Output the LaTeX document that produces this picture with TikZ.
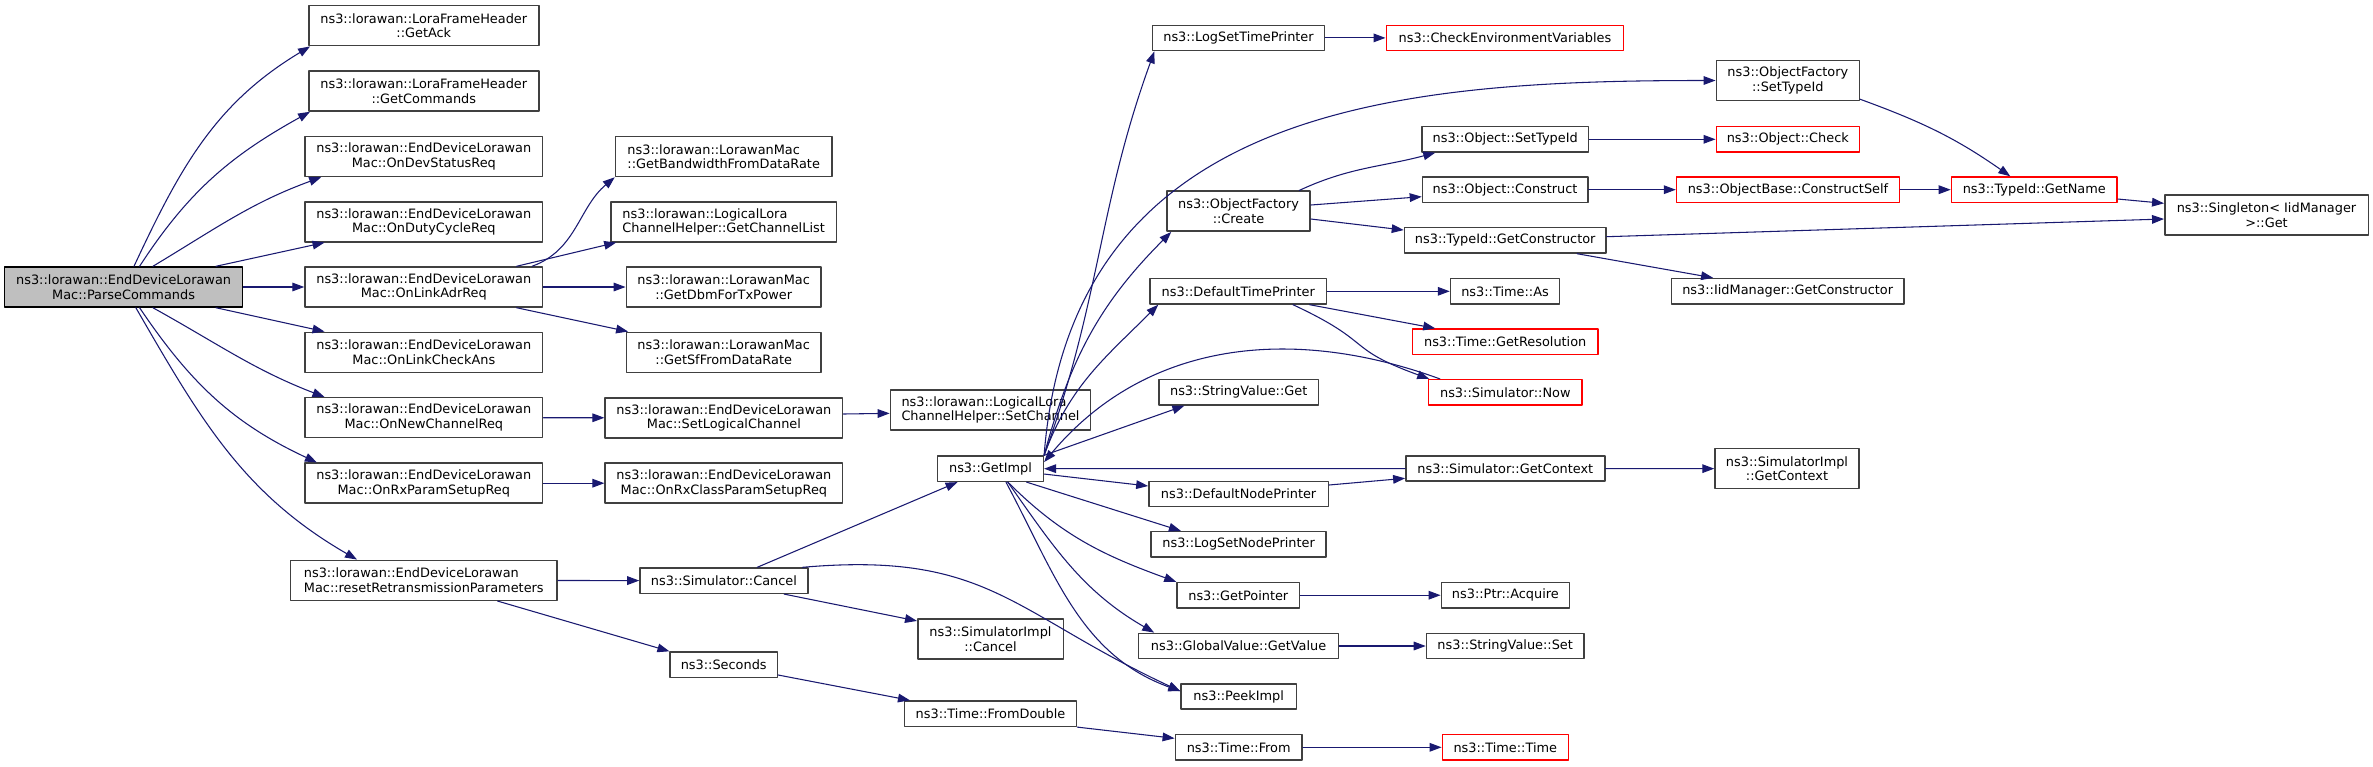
\documentclass[tikz,border=0pt]{standalone}
\usepackage{fontspec}
\setmainfont{DejaVu Sans}
\usepackage{xcolor}
\usepackage{tikz}
\usetikzlibrary{arrows.meta}
\definecolor{edgeblue}{HTML}{191970}
\definecolor{boxgrey}{HTML}{404040}
\definecolor{hotgrey}{HTML}{BFBFBF}

\begin{document}
\begin{tikzpicture}[
   x=0.75bp,
   y=-0.75bp,
   line cap=round,
   line join=round,
   every node/.style={font=\fontsize{9.7}{11}\selectfont},
   fn/.style={draw=boxgrey,line width=1.1bp,fill=white,inner sep=0pt,
     align=center,minimum height=19bp},
   fntwo/.style={fn,minimum height=30bp},
   hot/.style={fill=hotgrey,draw=black},
   trunc/.style={draw=red},
   edge/.style={draw=edgeblue,line width=0.8bp,
     -{Triangle[length=9bp,width=6.5bp]}}
 ]
   \useasboundingbox (0,0) rectangle (2373,766);

   % The function whose calls are shown, and what it calls directly.
   \node[fntwo,hot,minimum width=178.5bp] (parse) at (123.6,287)
     {ns3::lorawan::EndDeviceLorawan\\Mac::ParseCommands};
   \node[fntwo,minimum width=172.5bp] (getack) at (423.8,25.7)
     {ns3::lorawan::LoraFrameHeader\\::GetAck};
   \node[fntwo,minimum width=172.5bp] (getcmds) at (423.8,91)
     {ns3::lorawan::LoraFrameHeader\\::GetCommands};
   \node[fntwo,minimum width=178.2bp] (devstatus) at (423.8,156.5)
     {ns3::lorawan::EndDeviceLorawan\\Mac::OnDevStatusReq};
   \node[fntwo,minimum width=178.2bp] (dutycycle) at (423.8,221.8)
     {ns3::lorawan::EndDeviceLorawan\\Mac::OnDutyCycleReq};
   \node[fntwo,minimum width=178.2bp] (linkadr) at (423.8,287)
     {ns3::lorawan::EndDeviceLorawan\\Mac::OnLinkAdrReq};
   \node[fntwo,minimum width=178.2bp] (linkcheck) at (423.8,352.3)
     {ns3::lorawan::EndDeviceLorawan\\Mac::OnLinkCheckAns};
   \node[fntwo,minimum width=178.2bp] (newchan) at (423.8,417.7)
     {ns3::lorawan::EndDeviceLorawan\\Mac::OnNewChannelReq};
   \node[fntwo,minimum width=178.2bp] (rxparam) at (423.8,483.2)
     {ns3::lorawan::EndDeviceLorawan\\Mac::OnRxParamSetupReq};
   \node[fntwo,align=left,minimum width=200.1bp] (reset) at (423.8,580.3)
     {ns3::lorawan::EndDeviceLorawan\\Mac::resetRetransmissionParameters};

   % Third column.
   \node[fntwo,align=left,minimum width=162.3bp] (bandwidth) at (723.7,156.5)
     {ns3::lorawan::LorawanMac\\::GetBandwidthFromDataRate};
   \node[fntwo,align=left,minimum width=169.1bp] (chanlist) at (723.65,221.8)
     {ns3::lorawan::LogicalLora\\ChannelHelper::GetChannelList};
   \node[fntwo,minimum width=146.1bp] (dbm) at (723.7,287)
     {ns3::lorawan::LorawanMac\\::GetDbmForTxPower};
   \node[fntwo,minimum width=146.1bp] (sf) at (723.7,352.3)
     {ns3::lorawan::LorawanMac\\::GetSfFromDataRate};
   \node[fntwo,minimum width=178.2bp] (setlogical) at (723.9,417.8)
     {ns3::lorawan::EndDeviceLorawan\\Mac::SetLogicalChannel};
   \node[fntwo,minimum width=178.2bp] (rxclass) at (723.9,483.2)
     {ns3::lorawan::EndDeviceLorawan\\Mac::OnRxClassParamSetupReq};
   \node[fn,minimum width=125.9bp] (cancel) at (723.9,580.7) {ns3::Simulator::Cancel};
   \node[fn,minimum width=80.3bp] (seconds) at (723.7,664.7) {ns3::Seconds};

   % Fourth column.
   \node[fntwo,align=left,minimum width=150.2bp] (setchannel) at (990.5,410)
     {ns3::lorawan::LogicalLora\\ChannelHelper::SetChannel};
   \node[fn,minimum width=79.3bp] (getimpl) at (990.5,468.7) {ns3::GetImpl};
   \node[fntwo,minimum width=109.1bp] (implcancel) at (990.5,639)
     {ns3::SimulatorImpl\\::Cancel};
   \node[fn,minimum width=129.1bp] (fromdouble) at (990.5,713.7) {ns3::Time::FromDouble};

   % Fifth column.
   \node[fn,minimum width=129bp] (logtime) at (1238.5,37.9) {ns3::LogSetTimePrinter};
   \node[fntwo,minimum width=107.3bp] (create) at (1238.5,211.2)
     {ns3::ObjectFactory\\::Create};
   \node[fn,minimum width=132.5bp] (deftime) at (1238.3,291.3) {ns3::DefaultTimePrinter};
   \node[fn,minimum width=119.4bp] (strget) at (1238.7,392.3) {ns3::StringValue::Get};
   \node[fn,minimum width=134.5bp] (defnode) at (1238.6,494) {ns3::DefaultNodePrinter};
   \node[fn,minimum width=131.4bp] (lognode) at (1238.6,544.3) {ns3::LogSetNodePrinter};
   \node[fn,minimum width=92bp] (getptr) at (1238.3,595.2) {ns3::GetPointer};
   \node[fn,minimum width=149.9bp] (glbget) at (1238.6,646) {ns3::GlobalValue::GetValue};
   \node[fn,minimum width=86.4bp] (peek) at (1238.7,696.5) {ns3::PeekImpl};
   \node[fn,minimum width=95.1bp] (timefrom) at (1238.7,747.3) {ns3::Time::From};

   % Sixth column.
   \node[fn,trunc,minimum width=178.1bp] (checkenv) at (1505,37.9)
     {ns3::CheckEnvironmentVariables};
   \node[fn,minimum width=125bp] (objsettype) at (1505.2,139.3) {ns3::Object::SetTypeId};
   \node[fn,minimum width=124bp] (construct) at (1505.1,189.7) {ns3::Object::Construct};
   \node[fn,minimum width=151.1bp] (getctor) at (1505.2,240.3) {ns3::TypeId::GetConstructor};
   \node[fn,minimum width=81.8bp] (timeas) at (1505,291.3) {ns3::Time::As};
   \node[fn,trunc,minimum width=139.3bp] (getres) at (1505.2,341.7) {ns3::Time::GetResolution};
   \node[fn,trunc,minimum width=115bp] (now) at (1505.3,392.3) {ns3::Simulator::Now};
   \node[fn,minimum width=149.2bp] (getctx) at (1505.3,468.5) {ns3::Simulator::GetContext};
   \node[fn,minimum width=96.1bp] (acquire) at (1505.4,595.2) {ns3::Ptr::Acquire};
   \node[fn,minimum width=118.1bp] (strset) at (1505.2,646) {ns3::StringValue::Set};
   \node[fn,trunc,minimum width=94.5bp] (timetime) at (1505.3,747.3) {ns3::Time::Time};

   % Right-hand columns.
   \node[fntwo,minimum width=107.3bp] (facsettype) at (1787.8,80.5)
     {ns3::ObjectFactory\\::SetTypeId};
   \node[fn,trunc,minimum width=107.3bp] (check) at (1787.8,139.3) {ns3::Object::Check};
   \node[fn,trunc,minimum width=167.2bp] (ctorself) at (1788,189.7)
     {ns3::ObjectBase::ConstructSelf};
   \node[fn,minimum width=174.2bp] (iidctor) at (1787.7,291.2)
     {ns3::IidManager::GetConstructor};
   \node[fntwo,minimum width=108bp] (implctx) at (1787,468.7)
     {ns3::SimulatorImpl\\::GetContext};
   \node[fn,trunc,minimum width=124.3bp] (getname) at (2034.3,189.7) {ns3::TypeId::GetName};
   \node[fntwo,minimum width=152.6bp] (singleton) at (2266.5,215.2)
     {ns3::Singleton< IidManager\\>::Get};

   % Calls made by ParseCommands.
   \draw[edge] ([xshift=7.8bp]parse.north) to[out=65,in=211] ([xshift=1.5bp]getack.south west);
   \draw[edge] ([xshift=12bp]parse.north) to[out=57,in=209] ([xshift=1.5bp]getcmds.south west);
   \draw[edge] ([xshift=22bp]parse.north) to[out=31,in=200] ([xshift=12.7bp]devstatus.south west);
   \draw[edge] ([xshift=69.3bp]parse.north) -- ([xshift=15.2bp]dutycycle.south west);
   \draw[edge] (parse) -- (linkadr);
   \draw[edge] ([xshift=69.3bp]parse.south) -- ([xshift=15.2bp]linkcheck.north west);
   \draw[edge] ([xshift=22bp]parse.south) to[out=-29,in=159] ([xshift=15.2bp]newchan.north west);
   \draw[edge] ([xshift=12bp]parse.south) to[out=-56,in=155] ([xshift=9.5bp]rxparam.north west);
   \draw[edge] ([xshift=9.2bp]parse.south) to[out=-60,in=150] ([xshift=50.5bp]reset.north west);

   % Second level.
   \draw[edge] ([xshift=81.2bp]linkadr.north) to[out=20,in=220] (bandwidth.south west);
   \draw[edge] ([xshift=69.6bp]linkadr.north) -- ([xshift=4.5bp]chanlist.south west);
   \draw[edge] (linkadr) -- (dbm);
   \draw[edge] ([xshift=69.6bp]linkadr.south) -- ([xshift=1.9bp]sf.north west);
   \draw[edge] (newchan) -- (setlogical);
   \draw[edge] ([yshift=2.85bp]setlogical.east) -- ([yshift=-2.5bp]setchannel.west);
   \draw[edge] (rxparam) -- (rxclass);
   \draw[edge] (reset) -- (cancel);
   \draw[edge] ([xshift=55.3bp]reset.south) -- (seconds.north west);

   % Simulator and time helpers.
   \draw[edge] ([xshift=25bp]cancel.north) -- ([xshift=15.5bp]getimpl.south west);
   \draw[edge] ([xshift=45.2bp]cancel.south) -- ([yshift=-2bp]implcancel.north west);
   \draw[edge] ([xshift=59bp]cancel.north) to[out=5,in=155,looseness=1.2] ([yshift=4bp]peek.west);
   \draw[edge] ([yshift=-7.7bp]seconds.east) -- ([xshift=4.7bp]fromdouble.north west);
   \draw[edge] (fromdouble.south east) -- ([yshift=6.75bp]timefrom.west);
   \draw[edge] (timefrom) -- (timetime);

   % Calls made by GetImpl.
   \draw[edge] (getimpl.north east) to[out=70,in=250] ([xshift=2bp]logtime.south west);
   \draw[edge] (getimpl.north east) .. controls +(27,-350) and +(-316,0) .. (facsettype.west);
   \draw[edge] (getimpl.north east) to[out=75,in=225] ([xshift=3.75bp]create.south west);
   \draw[edge] (getimpl.north east) to[out=70,in=225] ([xshift=6.75bp]deftime.south west);
   \draw[edge] (getimpl.north east) -- ([xshift=19.5bp]strget.south west);
   \draw[edge] ([yshift=-4bp]getimpl.east) -- ([yshift=6bp]defnode.west);
   \draw[edge] ([xshift=27bp]getimpl.south) -- ([xshift=23bp]lognode.north west);
   \draw[edge] ([xshift=13bp]getimpl.south) to[out=-45,in=160] (getptr.north west);
   \draw[edge] ([xshift=13bp]getimpl.south) to[out=-55,in=150] ([xshift=12.2bp]glbget.north west);
   \draw[edge] ([xshift=11.6bp]getimpl.south) to[out=-62,in=160] ([yshift=4bp]peek.west);
   \draw[edge] ([xshift=9bp]now.north west) to[out=160,in=50] ([yshift=5bp]getimpl.east);
   \draw[edge] (getctx) -- (getimpl);

   % Printers, factories and the rest.
   \draw[edge] (deftime) -- (timeas);
   \draw[edge] ([xshift=53.5bp]deftime.south) -- ([xshift=17.7bp]getres.north west);
   \draw[edge] ([xshift=41bp]deftime.south) to[out=-25,in=160,looseness=1.5] ([xshift=1bp]now.north west);
   \draw[edge] ([yshift=6.75bp]defnode.east) -- ([yshift=-7.35bp]getctx.west);
   \draw[edge] (getctx) -- (implctx);
   \draw[edge] (getptr) -- (acquire);
   \draw[edge] (glbget) -- (strset);
   \draw[edge] (logtime) -- (checkenv);
   \draw[edge] ([xshift=45.5bp]create.north) to[out=25,in=195] ([xshift=10.6bp]objsettype.south west);
   \draw[edge] ([yshift=4.65bp]create.east) -- ([yshift=-5.25bp]construct.west);
   \draw[edge] ([yshift=-5.85bp]create.east) -- ([yshift=7.7bp]getctor.west);
   \draw[edge] (objsettype) -- (check);
   \draw[edge] (construct) -- (ctorself);
   \draw[edge] (ctorself) -- (getname);
   \draw[edge] ([yshift=1.5bp]facsettype.south east) to[out=-20,in=145] ([xshift=-18bp]getname.north);
   \draw[edge] ([yshift=-7bp]getname.east) -- ([yshift=8.9bp]singleton.west);
   \draw[edge] ([yshift=2.7bp]getctor.east) -- ([yshift=-2.85bp]singleton.west);
   \draw[edge] ([xshift=53.9bp]getctor.south) -- ([xshift=31.7bp]iidctor.north west);
 \end{tikzpicture}
\end{document}
